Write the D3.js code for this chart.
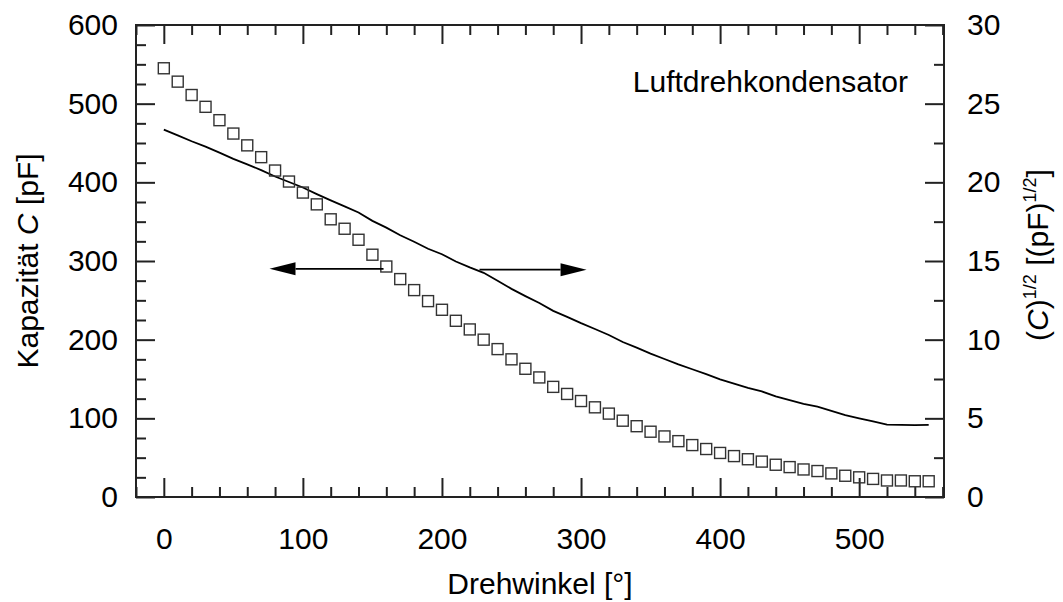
<!DOCTYPE html>
<html lang="de">
<head>
  <meta charset="UTF-8">
  <title>Luftdrehkondensator</title>
  <script src="https://d3js.org/d3.v7.min.js"></script>
  <style>
    body { margin: 0; background: #fff; }
    text { font-family: "Liberation Sans", Arial, sans-serif; fill: #000; }
  </style>
</head>
<body>
  <div id="chart"></div>

  <script>
    // Drehwinkel [°]
    const angle = [0, 10, 20, 30, 40, 50, 60, 70, 80, 90,
      100, 110, 120, 130, 140, 150, 160, 170, 180, 190,
      200, 210, 220, 230, 240, 250, 260, 270, 280, 290,
      300, 310, 320, 330, 340, 350, 360, 370, 380, 390,
      400, 410, 420, 430, 440, 450, 460, 470, 480, 490,
      500, 510, 520, 530, 540, 550];

    // Kapazität C [pF] (squares, left axis)
    const capacity = [545, 528, 511, 496, 479, 462, 447, 432, 415, 401,
      387, 372, 353, 341, 327, 308, 293, 277, 263, 249,
      238, 224, 213, 200, 188, 175, 163, 152, 140, 131,
      122, 114, 106, 97, 90, 83, 77, 71, 66, 61,
      56, 52, 48, 45, 41, 38, 35, 33, 30, 27,
      25, 23, 21, 21, 20, 20];

    // (C)^1/2 [(pF)^1/2] (line, right axis)
    const rootC = [23.35, 22.98, 22.61, 22.27, 21.89, 21.49, 21.14, 20.78, 20.37, 20.02,
      19.67, 19.25, 18.85, 18.47, 18.08, 17.55, 17.12, 16.64, 16.22, 15.78,
      15.43, 14.97, 14.59, 14.25, 13.75, 13.23, 12.77, 12.33, 11.83, 11.45,
      11.05, 10.68, 10.30, 9.85, 9.49, 9.11, 8.77, 8.43, 8.12, 7.81,
      7.48, 7.21, 6.93, 6.71, 6.40, 6.16, 5.92, 5.74, 5.48, 5.20,
      5.00, 4.80, 4.60, 4.58, 4.57, 4.58];

    const xTicks = [0, 100, 200, 300, 400, 500];
    const leftTicks = [0, 100, 200, 300, 400, 500, 600];
    const rightTicks = [0, 5, 10, 15, 20, 25, 30];

    const width = 1063, height = 602;
    const plot = { left: 136, right: 944, top: 25, bottom: 497 };

    const svg = d3.select("#chart").append("svg")
      .attr("width", width)
      .attr("height", height);

    const x = d3.scaleLinear().domain([-20, 561]).range([plot.left, plot.right]);
    const yL = d3.scaleLinear().domain([0, 600]).range([plot.bottom, plot.top]);
    const yR = d3.scaleLinear().domain([0, 30]).range([plot.bottom, plot.top]);

    const xMinor = d3.range(-20, 561, 20).filter(v => v % 100 !== 0);
    const lMinor = d3.range(25, 600, 25).filter(v => v % 100 !== 0);
    const rMinor = d3.range(2.5, 30, 2.5).filter(v => v % 5 !== 0);

    const major = 19, minor = 10;

    function styleAxis(g) {
      g.select(".domain").remove();
      g.selectAll("line").attr("stroke", "#222").attr("stroke-width", 2);
      g.selectAll("text").style("font-size", "30px")
        .style("font-family", "'Liberation Sans', Arial, sans-serif").attr("fill", "#000");
    }

    // bottom axis
    svg.append("g").attr("transform", `translate(0,${plot.bottom})`)
      .call(d3.axisBottom(x).tickValues(xTicks).tickSizeInner(-major).tickSizeOuter(0).tickPadding(31))
      .call(styleAxis);
    svg.append("g").attr("transform", `translate(0,${plot.bottom})`)
      .call(d3.axisBottom(x).tickValues(xMinor).tickSizeInner(-minor).tickSizeOuter(0).tickFormat(""))
      .call(styleAxis);

    // top axis
    svg.append("g").attr("transform", `translate(0,${plot.top})`)
      .call(d3.axisTop(x).tickValues(xTicks).tickSizeInner(-major).tickSizeOuter(0).tickFormat(""))
      .call(styleAxis);
    svg.append("g").attr("transform", `translate(0,${plot.top})`)
      .call(d3.axisTop(x).tickValues(xMinor).tickSizeInner(-minor).tickSizeOuter(0).tickFormat(""))
      .call(styleAxis);

    // left axis
    svg.append("g").attr("transform", `translate(${plot.left},0)`)
      .call(d3.axisLeft(yL).tickValues(leftTicks).tickSizeInner(-major).tickSizeOuter(0).tickPadding(18))
      .call(styleAxis);
    svg.append("g").attr("transform", `translate(${plot.left},0)`)
      .call(d3.axisLeft(yL).tickValues(lMinor).tickSizeInner(-minor).tickSizeOuter(0).tickFormat(""))
      .call(styleAxis);

    // right axis
    svg.append("g").attr("transform", `translate(${plot.right},0)`)
      .call(d3.axisRight(yR).tickValues(rightTicks).tickSizeInner(-major).tickSizeOuter(0).tickPadding(23))
      .call(styleAxis);
    svg.append("g").attr("transform", `translate(${plot.right},0)`)
      .call(d3.axisRight(yR).tickValues(rMinor).tickSizeInner(-minor).tickSizeOuter(0).tickFormat(""))
      .call(styleAxis);

    // frame
    svg.append("rect")
      .attr("x", plot.left).attr("y", plot.top)
      .attr("width", plot.right - plot.left).attr("height", plot.bottom - plot.top)
      .attr("fill", "none").attr("stroke", "#222").attr("stroke-width", 2);

    // sqrt(C) line
    const line = d3.line().x((d, i) => x(angle[i])).y(d => yR(d));
    svg.append("path").datum(rootC)
      .attr("d", line)
      .attr("fill", "none").attr("stroke", "#000").attr("stroke-width", 1.8);

    // C squares
    const s = 11;
    svg.append("g").selectAll("rect")
      .data(capacity)
      .join("rect")
      .attr("x", (d, i) => x(angle[i]) - s / 2)
      .attr("y", d => yL(d) - s / 2)
      .attr("width", s).attr("height", s)
      .attr("fill", "none").attr("stroke", "#333").attr("stroke-width", 1.4);

    // arrows pointing to the axes
    function arrow(x1, x2, yPix) {
      const dir = Math.sign(x2 - x1);
      const tip = x(x2), base = tip - dir * 26;
      svg.append("line")
        .attr("x1", x(x1)).attr("x2", base).attr("y1", yPix).attr("y2", yPix)
        .attr("stroke", "#000").attr("stroke-width", 1.8);
      svg.append("path")
        .attr("d", `M${tip},${yPix} L${base},${yPix - 6.5} L${base},${yPix + 6.5} Z`)
        .attr("fill", "#000");
    }
    arrow(158, 76, yL(290));
    arrow(227, 304, yR(14.45));

    // annotation
    svg.append("text")
      .attr("x", 908).attr("y", 92)
      .attr("text-anchor", "end")
      .style("font-size", "30px")
      .text("Luftdrehkondensator");

    // axis titles
    svg.append("text")
      .attr("x", (plot.left + plot.right) / 2).attr("y", 594)
      .attr("text-anchor", "middle")
      .style("font-size", "30px")
      .text("Drehwinkel [°]");

    const lt = svg.append("text")
      .attr("transform", `translate(38,${(plot.top + plot.bottom) / 2}) rotate(-90)`)
      .attr("text-anchor", "middle")
      .style("font-size", "30px");
    lt.append("tspan").text("Kapazität ");
    lt.append("tspan").style("font-style", "italic").text("C");
    lt.append("tspan").text(" [pF]");

    const rt = svg.append("text")
      .attr("transform", `translate(1048,255) rotate(-90)`)
      .attr("text-anchor", "middle")
      .style("font-size", "30px");
    rt.append("tspan").text("(");
    rt.append("tspan").style("font-style", "italic").text("C");
    rt.append("tspan").text(")");
    rt.append("tspan").attr("dy", -12).style("font-size", "18px").text("1/2");
    rt.append("tspan").attr("dy", 12).text(" [(pF)");
    rt.append("tspan").attr("dy", -12).style("font-size", "18px").text("1/2");
    rt.append("tspan").attr("dy", 12).text("]");
  </script>
</body>
</html>
